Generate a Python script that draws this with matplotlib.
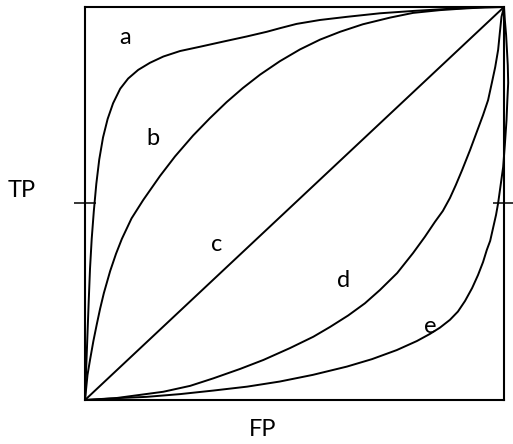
import matplotlib

matplotlib.use("Agg")
import matplotlib.pyplot as plt

# ROC-style sketch curves, unit square (FP on x, TP on y)
curve_names = ["a", "b", "c", "d", "e"]

a_fp = [0.0, 0.003, 0.006, 0.009, 0.012, 0.016, 0.021, 0.027, 0.034, 0.043, 0.054,
        0.067, 0.084, 0.103, 0.127, 0.155, 0.187, 0.227, 0.275, 0.330, 0.386, 0.434,
        0.465, 0.505, 0.561, 0.625, 0.704, 0.784, 0.863, 0.943, 1.0]
a_tp = [0.0, 0.085, 0.170, 0.255, 0.335, 0.410, 0.480, 0.550, 0.612, 0.668, 0.715,
        0.755, 0.792, 0.818, 0.840, 0.858, 0.874, 0.888, 0.899, 0.912, 0.925, 0.937,
        0.946, 0.957, 0.967, 0.975, 0.984, 0.990, 0.995, 0.999, 1.0]

b_fp = [0.0, 0.006, 0.012, 0.020, 0.028, 0.036, 0.045, 0.060, 0.074, 0.088, 0.111,
        0.139, 0.179, 0.215, 0.258, 0.298, 0.338, 0.377, 0.418, 0.465, 0.513,
        0.561, 0.609, 0.663, 0.728, 0.783, 0.847, 0.902, 0.955, 1.0]
b_tp = [0.0, 0.064, 0.102, 0.150, 0.192, 0.232, 0.272, 0.328, 0.372, 0.410, 0.462,
        0.509, 0.570, 0.620, 0.673, 0.717, 0.758, 0.794, 0.828, 0.862, 0.892,
        0.917, 0.937, 0.956, 0.973, 0.985, 0.992, 0.996, 0.999, 1.0]

c_fp = [0.0, 1.0]
c_tp = [0.0, 1.0]

d_fp = [0.0, 0.036, 0.068, 0.131, 0.187, 0.251, 0.306, 0.370, 0.426, 0.489, 0.545,
        0.585, 0.628, 0.668, 0.704, 0.745, 0.783, 0.811, 0.835, 0.854, 0.871, 0.885,
        0.900, 0.919, 0.935, 0.950, 0.962, 0.971, 0.979, 0.986, 0.990, 0.994, 1.0]
d_tp = [0.0, 0.002, 0.004, 0.013, 0.021, 0.036, 0.055, 0.079, 0.102, 0.132, 0.161,
        0.186, 0.215, 0.246, 0.280, 0.323, 0.374, 0.415, 0.453, 0.481, 0.514, 0.547,
        0.585, 0.636, 0.682, 0.725, 0.763, 0.807, 0.847, 0.891, 0.934, 0.975, 1.0]

e_fp = [0.0, 0.060, 0.147, 0.227, 0.306, 0.387, 0.465, 0.544, 0.625, 0.685, 0.744,
        0.792, 0.823, 0.847, 0.871, 0.890, 0.907, 0.924, 0.938, 0.950, 0.959, 0.967,
        0.974, 0.981, 0.986, 0.992, 0.998, 1.002, 1.006, 1.008, 1.010, 1.009, 1.007,
        1.005, 1.002, 1.0]
e_tp = [0.0, 0.004, 0.008, 0.015, 0.024, 0.034, 0.047, 0.064, 0.085, 0.104, 0.127,
        0.150, 0.168, 0.184, 0.204, 0.225, 0.252, 0.285, 0.318, 0.351, 0.382, 0.405,
        0.438, 0.471, 0.501, 0.547, 0.593, 0.649, 0.712, 0.763, 0.807, 0.852, 0.891,
        0.929, 0.967, 1.0]

x_label = "FP"
y_label = "TP"

W, H = 513, 444
plt.rcParams["font.family"] = ["Lato", "DejaVu Sans"]

fig = plt.figure(figsize=(W / 100, H / 100), dpi=100)
ax = fig.add_axes([85 / W, 44 / H, 419 / W, 393 / H])
ax.set_xlim(0, 1)
ax.set_ylim(0, 1)

curves = [(a_fp, a_tp), (b_fp, b_tp), (c_fp, c_tp), (d_fp, d_tp), (e_fp, e_tp)]
for fp, tp in curves:
    ax.plot(fp, tp, color="black", lw=1.4, solid_joinstyle="round",
            solid_capstyle="round", clip_on=False)

# letter labels next to each curve (axes units)
label_xy = [(0.095, 0.906), (0.161, 0.649), (0.314, 0.379), (0.616, 0.288), (0.823, 0.170)]
for name, (lx, ly) in zip(curve_names, label_xy):
    ax.text(lx, ly, name, ha="center", va="baseline", fontsize=17)

for sp in ax.spines.values():
    sp.set_linewidth(1.5)

ax.set_xticks([])
ax.set_yticks([0.5])
ax.tick_params(axis="y", direction="inout", length=16, width=1.1,
               left=True, right=True, labelleft=False, labelright=False)

fig.text(21.5 / W, 1 - 197 / H, y_label, ha="center", va="baseline", fontsize=17)
fig.text(262.5 / W, 1 - 436 / H, x_label, ha="center", va="baseline", fontsize=17)

fig.savefig("out.png", dpi=100)
